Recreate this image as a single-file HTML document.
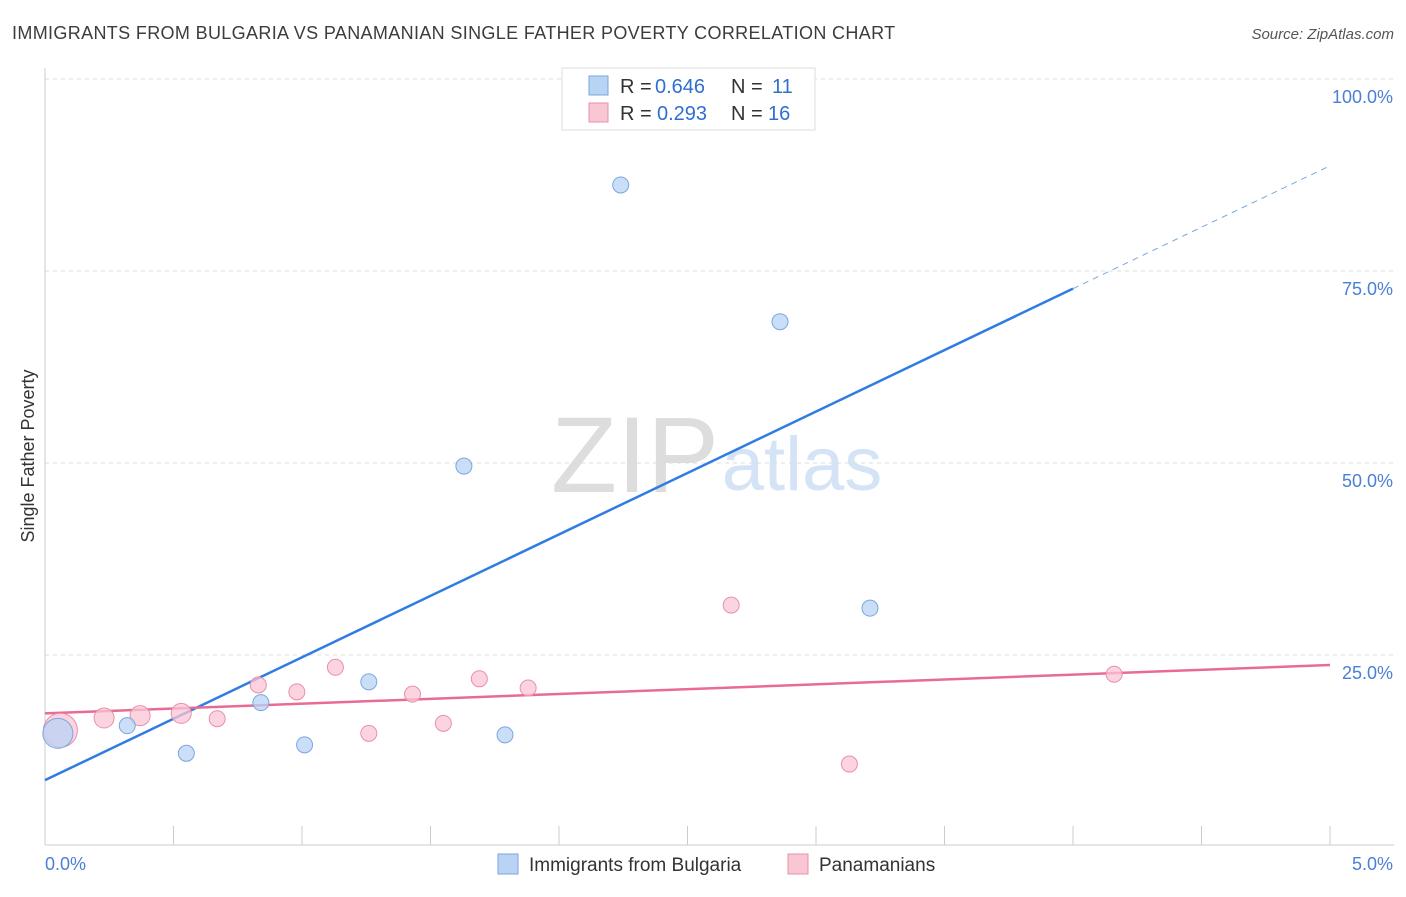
<!DOCTYPE html>
<html><head><meta charset="utf-8"><style>
body{margin:0;background:#fff;font-family:"Liberation Sans",sans-serif;}
svg text{font-family:"Liberation Sans",sans-serif;}
</style></head><body>
<svg id="chart" width="1406" height="892" xmlns="http://www.w3.org/2000/svg">
<text x="12" y="39" font-size="18" fill="#3c3c3c" letter-spacing="0.35">IMMIGRANTS FROM BULGARIA VS PANAMANIAN SINGLE FATHER POVERTY CORRELATION CHART</text>
<text x="1394" y="39" font-size="15" fill="#555" text-anchor="end" font-style="italic">Source: ZipAtlas.com</text>
<text transform="translate(34,456) rotate(-90)" font-size="18" fill="#333" text-anchor="middle">Single Father Poverty</text>
<g>
<text x="635" y="492" font-size="108" fill="#ddd" text-anchor="middle" font-family="Liberation Serif">ZIP</text>
<text x="802" y="490" font-size="76" fill="#d4e3f5" text-anchor="middle">atlas</text>
</g>
<g id="grid"></g><g id="axes"></g><g id="lines"></g><g id="points"></g>
<g>
<rect x="562" y="68" width="253" height="62" fill="#fff" stroke="#ddd"/>
<rect x="589" y="76" width="19" height="19" fill="#b9d3f5" stroke="#7aa6e0"/>
<rect x="589" y="103" width="19" height="19" fill="#f9c6d4" stroke="#e98fab"/>
<text x="620" y="93" font-size="20" fill="#333">R =</text>
<text x="655" y="93" font-size="20" fill="#2f6fd0">0.646</text>
<text x="731" y="93" font-size="20" fill="#333">N =</text>
<text x="772" y="93" font-size="20" fill="#2f6fd0">11</text>
<text x="620" y="120" font-size="20" fill="#333">R =</text>
<text x="657" y="120" font-size="20" fill="#2f6fd0">0.293</text>
<text x="731" y="120" font-size="20" fill="#333">N =</text>
<text x="768" y="120" font-size="20" fill="#2f6fd0">16</text>
</g>
<g>
<rect x="498" y="854" width="20" height="20" fill="#b9d3f5" stroke="#7aa6e0"/>
<text x="529" y="871" font-size="19" fill="#333">Immigrants from Bulgaria</text>
<rect x="788" y="854" width="20" height="20" fill="#f9c6d4" stroke="#e98fab"/>
<text x="819" y="871" font-size="19" fill="#333">Panamanians</text>
</g>
</svg>
<script>
const blueX=[0.05,0.32,0.55,0.84,1.01,1.26,1.63,1.79,2.24,2.86,3.21];
const blueY=[14.8,15.8,12.2,18.8,13.3,21.5,49.6,14.6,86.2,68.4,31.1];
const pinkX=[0.06,0.23,0.37,0.53,0.67,0.83,0.98,1.13,1.26,1.43,1.55,1.69,1.88,2.67,3.13,4.16];
const pinkY=[15.2,16.8,17.1,17.4,16.7,21.1,20.2,23.4,14.8,19.9,16.1,21.9,20.7,31.5,10.8,22.5];
const yTicks=[25,50,75,100];
const yTickLabels=["25.0%","50.0%","75.0%","100.0%"];
const xTicks=[0,0.5,1,1.5,2,2.5,3,3.5,4,4.5,5];
const blueTrend=[8.7,88.7];
const pinkTrend=[17.4,23.7];
const NS="http://www.w3.org/2000/svg";
const sx=v=>45+v/5*1285, sy=v=>847-v/100*768;
function mk(tag,attrs,parent){const e=document.createElementNS(NS,tag);for(const k in attrs)e.setAttribute(k,attrs[k]);document.getElementById(parent).appendChild(e);return e;}
yTicks.forEach((t,i)=>{
 const g=mk('line',{x1:45,x2:1394,y1:sy(t),y2:sy(t),stroke:'#ddd','stroke-dasharray':'4,4'},'grid');
 
 
 const l=mk('text',{x:1393,y:sy(t)+24,'font-size':18,fill:'#4a7fd4','text-anchor':'end'},'axes');
 l.textContent=yTickLabels[i];
 
 
});
const ax=mk('line',{x1:45,x2:1394,y1:845,y2:845,stroke:'#ccc'},'axes');


const ay=mk('line',{x1:45,x2:45,y1:68,y2:845,stroke:'#ccc'},'axes');


xTicks.forEach(t=>{
 const k=mk('line',{x1:sx(t),x2:sx(t),y1:826,y2:845,stroke:'#ccc'},'axes');
 
 
});
const x0=mk('text',{x:45,y:870,'font-size':18,fill:'#4a7fd4'},'axes');x0.textContent="0.0%";


const x1=mk('text',{x:1393,y:870,'font-size':18,fill:'#4a7fd4','text-anchor':'end'},'axes');x1.textContent="5.0%";


const bEnd=4.0, bAt=v=>blueTrend[0]+(blueTrend[1]-blueTrend[0])*v/5;
const bl=mk('line',{x1:sx(0),y1:sy(bAt(0)),x2:sx(bEnd),y2:sy(bAt(bEnd)),stroke:'#2f7de0','stroke-width':2.5},'lines');


const bd=mk('line',{x1:sx(bEnd),y1:sy(bAt(bEnd)),x2:sx(5),y2:sy(bAt(5)),stroke:'#7aa6e0','stroke-width':1,'stroke-dasharray':'6,5'},'lines');


const pl=mk('line',{x1:sx(0),y1:sy(pinkTrend[0]),x2:sx(5),y2:sy(pinkTrend[1]),stroke:'#e96b95','stroke-width':2.5},'lines');


pinkX.forEach((x,i)=>{
 const c=mk('circle',{cx:sx(x),cy:sy(pinkY[i]),r:i===0?17:(i<4?10:8),fill:'#f9c6d4','fill-opacity':0.75,stroke:'#e98fab'},'points');
 
 
});
blueX.forEach((x,i)=>{
 const c=mk('circle',{cx:sx(x),cy:sy(blueY[i]),r:i===0?15:8,fill:'#b9d3f5','fill-opacity':0.75,stroke:'#7aa6e0'},'points');
 
 
});
</script>
</body></html>
